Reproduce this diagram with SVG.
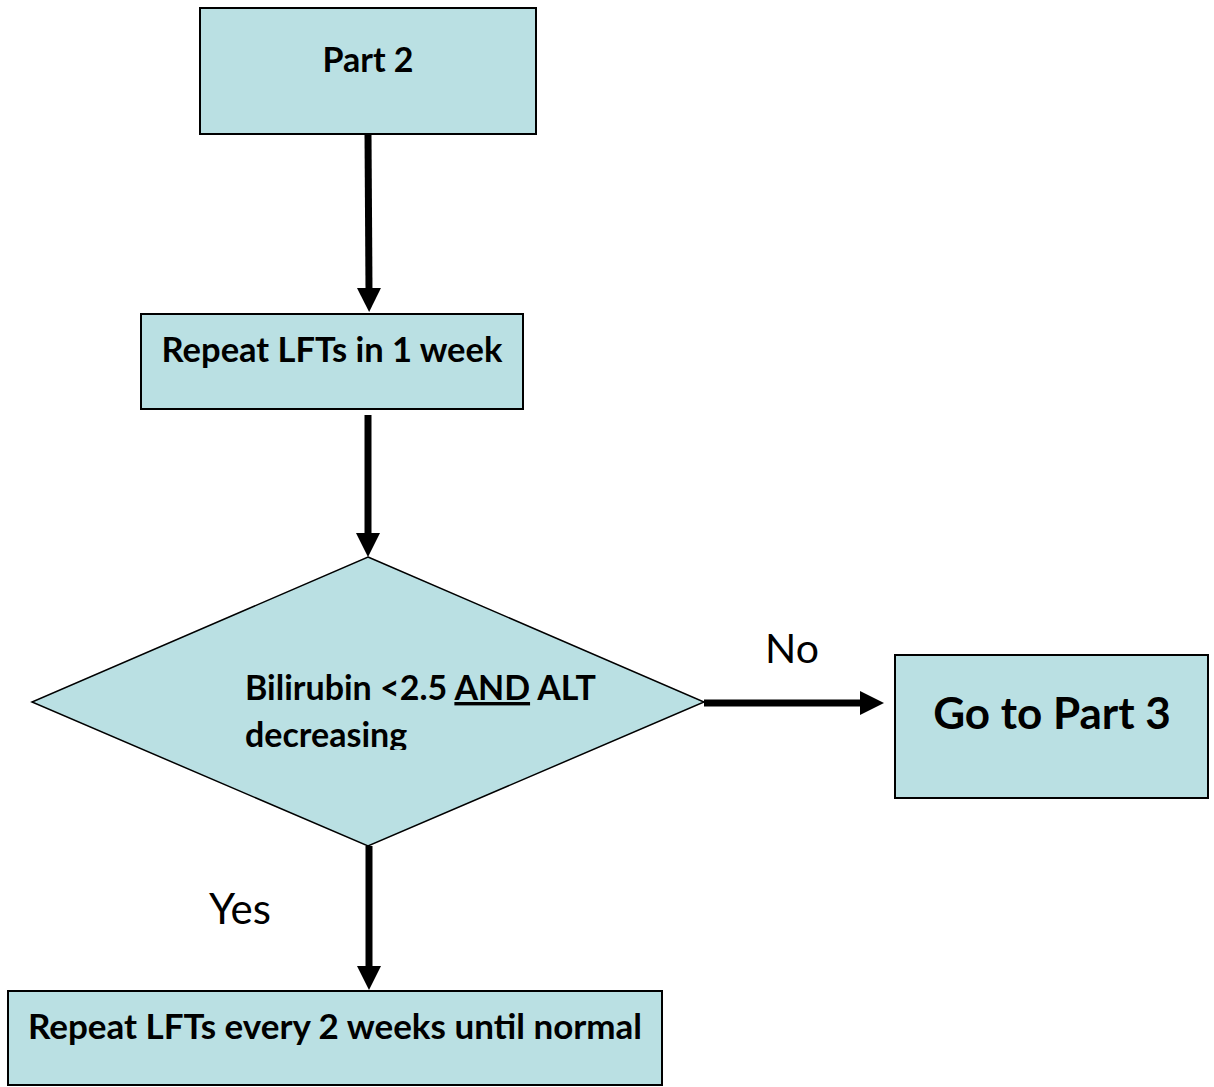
<svg xmlns="http://www.w3.org/2000/svg" width="1214" height="1087" viewBox="0 0 1214 1087">
<style>
.box{fill:#BAE0E3;stroke:#000;stroke-width:2}
.dia{fill:#BAE0E3;stroke:#000;stroke-width:1.5}
.b{font-family:Lato,"Liberation Sans",sans-serif;font-weight:bold;fill:#000}
.r{font-family:Lato,"Liberation Sans",sans-serif;fill:#000}
.c{stroke:#000;stroke-width:7;fill:none}
</style>
<defs>
<marker id="ah" markerUnits="userSpaceOnUse" markerWidth="26" markerHeight="26" refX="2" refY="12" orient="auto">
<path d="M0,0 L24,12 L0,24 Z" fill="#000"/>
</marker>
<clipPath id="dclip"><rect x="200" y="660" width="420" height="90"/></clipPath>
</defs>
<rect width="1214" height="1087" fill="#fff"/>
<g id="connectors">
<line class="c" x1="368" y1="134" x2="369" y2="290" marker-end="url(#ah)"/>
<line class="c" x1="368" y1="415" x2="368" y2="535" marker-end="url(#ah)"/>
<line class="c" x1="704" y1="703" x2="862" y2="703" marker-end="url(#ah)"/>
<line class="c" x1="369" y1="846" x2="369" y2="968" marker-end="url(#ah)"/>
</g>
<g id="part2">
<rect class="box" x="200" y="8" width="336" height="126"/>
<text class="b" x="368" y="72" font-size="34" text-anchor="middle">Part 2</text>
</g>
<g id="repeat1">
<rect class="box" x="141" y="314" width="382" height="95"/>
<text class="b" x="332" y="362" font-size="34.5" text-anchor="middle">Repeat LFTs in 1 week</text>
</g>
<g id="decision">
<polygon class="dia" points="368,557 704,702 368,846 32,702"/>
<g clip-path="url(#dclip)">
<text class="b" x="245" y="700" font-size="34">Bilirubin &lt;2.5 <tspan text-decoration="underline">AND</tspan> ALT</text>
<text class="b" x="245" y="747" font-size="34">decreasing</text>
</g>
</g>
<g id="part3">
<rect class="box" x="895" y="655" width="313" height="143"/>
<text class="b" x="1052" y="729" font-size="44" text-anchor="middle">Go to Part 3</text>
</g>
<g id="repeat2">
<rect class="box" x="8" y="991" width="654" height="94"/>
<text class="b" x="335" y="1039" font-size="35" text-anchor="middle">Repeat LFTs every 2 weeks until normal</text>
</g>
<g id="labels">
<text class="r" x="792" y="663" font-size="41" text-anchor="middle">No</text>
<text class="r" x="240" y="924" font-size="42" text-anchor="middle">Yes</text>
</g>
</svg>
